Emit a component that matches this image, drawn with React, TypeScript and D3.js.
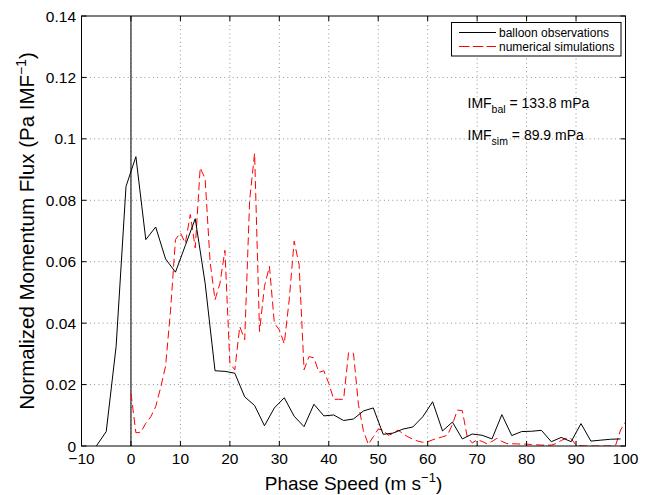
import React from "react";
import * as d3 from "d3";

const balloonSpeeds: number[] = [
  -7, -5, -3, -1, 1, 3, 5, 7, 9, 11, 13, 15, 17, 19, 21, 23, 25, 27, 29, 31, 33, 35, 37, 39, 41, 43, 45, 47, 49,
  51, 53, 55, 57, 59, 61, 63, 65, 67, 69, 71, 73, 75, 77, 79, 81, 83, 85, 87, 89, 91, 93, 95, 97, 99,
];
const balloonFlux: number[] = [
  0, 0.0047, 0.0324, 0.0845, 0.0942, 0.0672, 0.0713, 0.0609, 0.0566, 0.0653, 0.074, 0.053, 0.0245, 0.0243,
  0.0237, 0.016, 0.0132, 0.0066, 0.0124, 0.0157, 0.0097, 0.0063, 0.0136, 0.0098, 0.0101, 0.0083, 0.0088,
  0.0114, 0.0124, 0.0038, 0.0042, 0.0055, 0.0062, 0.0095, 0.0144, 0.0049, 0.0078, 0.0023, 0.0039, 0.0035,
  0.0023, 0.0102, 0.0034, 0.0047, 0.0048, 0.0051, 0.0014, 0.0028, 0.0014, 0.0073, 0.0016, 0.0019, 0.0022,
  0.0023,
];

const simSpeeds: number[] = d3.range(0, 101);
const simFlux: number[] = [
  0.0172, 0.0043, 0.0045, 0.0074, 0.0095, 0.0128, 0.019, 0.026, 0.044, 0.0672, 0.0694, 0.066, 0.0754, 0.0645,
  0.0906, 0.087, 0.06, 0.0476, 0.053, 0.0637, 0.027, 0.0248, 0.0389, 0.0346, 0.08, 0.0953, 0.0373, 0.052,
  0.0585, 0.04, 0.0378, 0.0333, 0.0476, 0.0667, 0.059, 0.0248, 0.0291, 0.0287, 0.024, 0.0245, 0.0204, 0.0152,
  0.0152, 0.0152, 0.0304, 0.0302, 0.0135, 0.005, 0.0005, 0.003, 0.0055, 0.0052, 0.0035, 0.004, 0.0052, 0.004,
  0.003, 0.0022, 0.0016, 0.0012, 0.0014, 0.002, 0.0025, 0.003, 0.0035, 0.007, 0.0117, 0.0115, 0.003, 0.001,
  0.002, 0.0015, 0.0007, 0.0015, 0.0025, 0.0015, 0.0008, 0.0007, 0.0007, 0.0006, 0.0006, 0.0005, 0.0004,
  0.0003, 0.0003, 0.0003, 0.0008, 0.0018, 0.0025, 0.0024, 0.0003, 0.0001, 0, 0, 0, 0, 0, 0, 0.0002, 0.0052,
  0.0078,
];

const xTicks: number[] = [-10, 0, 10, 20, 30, 40, 50, 60, 70, 80, 90, 100];
const yTicks: number[] = [0, 0.02, 0.04, 0.06, 0.08, 0.1, 0.12, 0.14];
const legendLabels: string[] = ["balloon observations", "numerical simulations"];
const imfLabels: { sub: string; value: string }[] = [
  { sub: "bal", value: "133.8 mPa" },
  { sub: "sim", value: "89.9 mPa" },
];

const W = 655;
const H = 495;
const L = 81.5;
const R = 625.5;
const T = 16;
const B = 446;
const FONT = "'Liberation Sans', Arial, Helvetica, sans-serif";

export default function App() {
  const x = d3.scaleLinear().domain([-10, 100]).range([L, R]);
  const y = d3.scaleLinear().domain([0, 0.14]).range([B, T]);

  const line = d3
    .line<[number, number]>()
    .x((d) => x(d[0]))
    .y((d) => y(d[1]));

  const balloonPts: [number, number][] = balloonSpeeds.map((s, i) => [s, balloonFlux[i]]);
  const simPts: [number, number][] = simSpeeds.map((s, i) => [s, simFlux[i]]);

  const fmtY = (v: number) => (v === 0 ? "0" : String(+v.toFixed(2)));
  const fmtX = (v: number) => (v < 0 ? "\u2212" + Math.abs(v) : String(v));
  const tickLen = 5;

  return (
    <svg
      width={W}
      height={H}
      style={{ position: "absolute", left: 0, top: 0, background: "#fff" }}
      fontFamily={FONT}
    >
      <rect x={0} y={0} width={W} height={H} fill="#fff" />
      <defs>
        <clipPath id="plotclip">
          <rect x={L} y={T} width={R - L} height={B - T} />
        </clipPath>
      </defs>

      {/* grid */}
      <g stroke="#444" strokeWidth={0.6} strokeDasharray="1,3.2">
        {xTicks.slice(1, -1).map((t) => (
          <line key={"gx" + t} x1={x(t)} x2={x(t)} y1={B} y2={T} />
        ))}
        {yTicks.slice(1, -1).map((t) => (
          <line key={"gy" + t} x1={L} x2={R} y1={y(t)} y2={y(t)} />
        ))}
      </g>

      {/* zero line */}
      <line x1={x(0)} x2={x(0)} y1={B} y2={T} stroke="#333" strokeWidth={1.3} />

      <g clipPath="url(#plotclip)">
        <path
          d={line(simPts) || ""}
          fill="none"
          stroke="#ff0000"
          strokeWidth={1}
          strokeDasharray="8,4"
        />
        <path d={line(balloonPts) || ""} fill="none" stroke="#000" strokeWidth={1} />
      </g>

      {/* axes box */}
      <rect x={L} y={T} width={R - L} height={B - T} fill="none" stroke="#000" strokeWidth={1} />

      {/* ticks */}
      <g stroke="#000" strokeWidth={1}>
        {xTicks.map((t) => (
          <g key={"tx" + t}>
            <line x1={x(t)} x2={x(t)} y1={B} y2={B - tickLen} />
            <line x1={x(t)} x2={x(t)} y1={T} y2={T + tickLen} />
          </g>
        ))}
        {yTicks.map((t) => (
          <g key={"ty" + t}>
            <line x1={L} x2={L + tickLen} y1={y(t)} y2={y(t)} />
            <line x1={R} x2={R - tickLen} y1={y(t)} y2={y(t)} />
          </g>
        ))}
      </g>

      {/* tick labels */}
      <g fontSize={15.5} fill="#000">
        {xTicks.map((t) => (
          <text key={"lx" + t} x={x(t)} y={B + 17.5} textAnchor="middle">
            {fmtX(t)}
          </text>
        ))}
        {yTicks.map((t) => (
          <text key={"ly" + t} x={L - 5.5} y={y(t) + 5.5} textAnchor="end">
            {fmtY(t)}
          </text>
        ))}
      </g>

      {/* axis labels */}
      <text x={(L + R) / 2} y={490} textAnchor="middle" fontSize={19}>
        Phase Speed (m s
        <tspan dy={-8} fontSize={13}>
          {"\u22121"}
        </tspan>
        <tspan dy={8}>)</tspan>
      </text>
      <text
        transform={`translate(34, ${(T + B) / 2}) rotate(-90)`}
        textAnchor="middle"
        fontSize={20.5}
      >
        Normalized Momentum Flux (Pa IMF
        <tspan dy={-8.5} fontSize={14}>
          {"\u22121"}
        </tspan>
        <tspan dy={8.5}>)</tspan>
      </text>

      {/* legend */}
      <g>
        <rect x={451.5} y={22.5} width={169.5} height={33.5} fill="#fff" stroke="#000" strokeWidth={1} />
        <line x1={459} x2={496} y1={32.5} y2={32.5} stroke="#000" strokeWidth={1} />
        <line
          x1={459}
          x2={496}
          y1={46.5}
          y2={46.5}
          stroke="#ff0000"
          strokeWidth={1}
          strokeDasharray="10.5,3.3"
        />
        {legendLabels.map((lab, i) => (
          <text key={lab} x={499} y={36.8 + i * 14} fontSize={12}>
            {lab}
          </text>
        ))}
      </g>

      {/* IMF annotations */}
      {imfLabels.map((d, i) => (
        <text key={d.sub} x={467.5} y={108 + i * 32} fontSize={14}>
          IMF
          <tspan dy={5} fontSize={10.5}>
            {d.sub}
          </tspan>
          <tspan dy={-5}>{" = " + d.value}</tspan>
        </text>
      ))}
    </svg>
  );
}
